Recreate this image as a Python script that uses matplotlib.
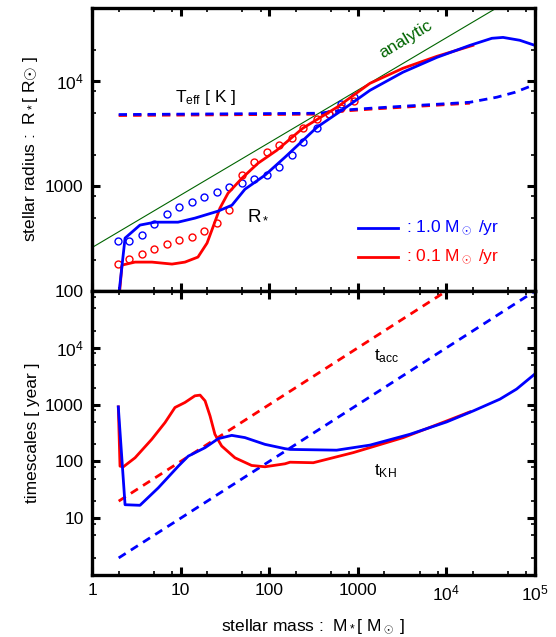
import matplotlib
matplotlib.use("Agg")
import matplotlib.pyplot as plt
from matplotlib.ticker import LogLocator, FixedLocator, FixedFormatter, NullFormatter

plt.rcParams['font.family'] = ['Liberation Sans', 'DejaVu Sans']
plt.rcParams['mathtext.fontset'] = 'custom'
plt.rcParams['mathtext.rm'] = 'Liberation Sans'
plt.rcParams['mathtext.it'] = 'Liberation Sans:italic'
plt.rcParams['mathtext.bf'] = 'Liberation Sans:bold'
plt.rcParams['mathtext.sf'] = 'Liberation Sans'

# ---------------- data: top panel (stellar radius / Teff) ----------------
r_blue_m = [2.0, 2.36, 3.48, 5.14, 9.35, 14.5, 26.4, 38, 53.3, 89.7, 151, 347, 663,
            1374, 3236, 7830, 18450, 32700, 43700, 67600, 100000]
r_blue_v = [90, 320, 426, 454, 454, 496, 578, 659, 936, 1273, 1890, 3650, 5300,
            8200, 12200, 16900, 22000, 25700, 26200, 24600, 22000]

r_red_m = [2.03, 2.18, 3.06, 4.75, 8.0, 11.2, 15.7, 19.9, 23.2, 27.8, 34.3, 49.3, 74.8,
           122, 240, 582, 1374, 3236, 7830, 19950]
r_red_v = [90, 177, 189, 189, 181, 189, 211, 287, 407, 617, 857, 1192, 1655,
           2200, 3570, 5650, 9560, 13300, 17300, 22000]

teff_blue_m = [2.0, 374, 663, 1374, 3236, 7830, 18450, 37200, 59500, 94900]
teff_blue_v = [4820, 4960, 5300, 5530, 5780, 6040, 6310, 7050, 7850, 9160]
teff_red_m = [2.0, 374, 663, 1374, 3236, 7830, 18450]
teff_red_v = [4720, 4860, 5190, 5420, 5660, 5920, 6180]

circ_m = [1.95, 2.62, 3.67, 5.01, 7.02, 9.59, 13.4, 18.4, 25.7, 35.2, 49.3, 67.4,
          94.4, 129, 181, 241, 347, 473, 646, 906]
circ_blue_v = [299, 299, 341, 434, 541, 631, 705, 786, 877, 978, 1068, 1166,
               1273, 1518, 1972, 2643, 3590, 4920, 6040, 7100]
circ_red_v = [181, 202, 225, 251, 280, 306, 327, 373, 444, 591, 1273, 1693,
              2110, 2457, 2865, 3565, 4345, 4850, 5530, 6455]

analytic_m = [1.0, 100000]
analytic_v = [260, 82200]

# ---------------- data: bottom panel (timescales) ----------------
tkh_blue_m = [1.98, 2.36, 3.48, 5.6, 9.42, 12.2, 18.9, 26.6, 37.8, 53.3, 89.7, 151, 172,
              578, 1374, 3880, 10070, 20130, 40270, 62100, 100000]
tkh_blue_v = [914, 17.3, 16.9, 34.3, 82.6, 124, 175, 252, 288, 263, 200, 168, 163,
              158, 194, 301, 496, 776, 1250, 1880, 3470]

tkh_red_m = [1.98, 2.07, 2.26, 3.06, 4.72, 6.67, 8.64, 11.2, 14.5, 16.6, 18.9, 21.5, 24.4,
             29.1, 41.1, 63.4, 89.7, 151, 172, 315, 889, 3265, 10070, 18450]
tkh_red_v = [914, 82.6, 80.6, 116, 245, 484, 892, 1093, 1432, 1473, 1167, 634, 301,
             187, 116, 85, 80.6, 91, 97, 95, 143, 263, 516, 746]

tacc_red_m = [2.0, 10000]
tacc_red_v = [20, 100000]
tacc_blue_m = [2.0, 100000]
tacc_blue_v = [2, 100000]

x_ticks = [1, 10, 100, 1000, 1e4, 1e5]
x_labels = ['1', '10', '100', '1000', r'$\mathregular{10^4}$', r'$\mathregular{10^5}$']
top_ticks = [100, 1000, 1e4]
top_labels = ['100', '1000', r'$\mathregular{10^4}$']
bot_ticks = [10, 100, 1000, 1e4]
bot_labels = ['10', '100', '1000', r'$\mathregular{10^4}$']

BLUE = '#0000ff'
RED = '#ff0000'
GREEN = '#006400'
FS = 12.5
DASH = (0, (3, 2.2))

fig = plt.figure(figsize=(5.56, 6.37), dpi=100)
ax1 = fig.add_axes([0.1655, 0.543, 0.7965, 0.4445])
ax2 = fig.add_axes([0.1655, 0.0973, 0.7965, 0.4457])


def style(ax, ticks, labels, ylim):
    ax.set_xscale('log')
    ax.set_yscale('log')
    ax.set_xlim(1, 1e5)
    ax.set_ylim(*ylim)
    for s in ax.spines.values():
        s.set_linewidth(2.4)
    ax.xaxis.set_major_locator(FixedLocator(x_ticks))
    ax.xaxis.set_minor_locator(LogLocator(base=10, subs=(2, 5, 8), numticks=20))
    ax.yaxis.set_major_locator(FixedLocator(ticks))
    ax.yaxis.set_major_formatter(FixedFormatter(labels))
    ax.yaxis.set_minor_locator(LogLocator(base=10, subs=(2, 5, 8), numticks=20))
    ax.xaxis.set_minor_formatter(NullFormatter())
    ax.yaxis.set_minor_formatter(NullFormatter())
    ax.tick_params(which='both', direction='in', top=True, right=True)
    ax.tick_params(which='major', length=6, width=2.2, labelsize=FS, pad=6)
    ax.tick_params(which='minor', length=3, width=1.2)


style(ax1, top_ticks, top_labels, (100, 5e4))
style(ax2, bot_ticks, bot_labels, (1, 1e5))
ax1.tick_params(labelbottom=False)
ax2.xaxis.set_major_formatter(FixedFormatter(x_labels))

# top panel
ax1.plot(analytic_m, analytic_v, color=GREEN, lw=0.8)
ax1.plot(circ_m, circ_blue_v, 'o', mfc='none', mec=BLUE, ms=5, mew=1.0)
ax1.plot(circ_m, circ_red_v, 'o', mfc='none', mec=RED, ms=5, mew=1.0)
ax1.plot(teff_red_m, teff_red_v, color=RED, lw=2, ls=DASH)
ax1.plot(teff_blue_m, teff_blue_v, color=BLUE, lw=2, ls=DASH)
ax1.plot(r_red_m, r_red_v, color=RED, lw=2)
ax1.plot(r_blue_m, r_blue_v, color=BLUE, lw=2)

ax1.text(3500, 25000, 'analytic', color=GREEN, fontsize=FS, rotation=31,
         ha='center', va='center')
ax1.text(19.4, 7050, r'T$_\mathregular{eff}$ [ K ]', fontsize=FS, ha='center', va='center')
ax1.text(74.8, 541, r'R$_*$', fontsize=FS + 1, ha='center', va='center')

ax1.plot([0.600, 0.691], [0.223, 0.223], color=BLUE, lw=2, transform=ax1.transAxes)
ax1.plot([0.600, 0.691], [0.120, 0.120], color=RED, lw=2, transform=ax1.transAxes)
ax1.text(0.708, 0.223, r': 1.0 M$_\odot$ /yr', color=BLUE, fontsize=FS,
         transform=ax1.transAxes, va='center', ha='left')
ax1.text(0.708, 0.120, r': 0.1 M$_\odot$ /yr', color=RED, fontsize=FS,
         transform=ax1.transAxes, va='center', ha='left')
ax1.set_ylabel(r'stellar radius :  R$_*$[ R$\odot$ ]', fontsize=FS, labelpad=4)

# bottom panel
ax2.plot(tacc_red_m, tacc_red_v, color=RED, lw=2, ls=DASH)
ax2.plot(tacc_blue_m, tacc_blue_v, color=BLUE, lw=2, ls=DASH)
ax2.plot(tkh_red_m, tkh_red_v, color=RED, lw=2)
ax2.plot(tkh_blue_m, tkh_blue_v, color=BLUE, lw=2)
ax2.text(2140, 7210, r't$_\mathregular{acc}$', fontsize=FS, ha='center', va='center')
ax2.text(2030, 66.5, r't$_\mathregular{KH}$', fontsize=FS, ha='center', va='center')
ax2.set_ylabel('timescales [ year ]', fontsize=FS, labelpad=4)
ax2.set_xlabel(r'stellar mass :  M$_*$[ M$_\odot$ ]', fontsize=FS, labelpad=10)

fig.savefig('out.png', dpi=100)
